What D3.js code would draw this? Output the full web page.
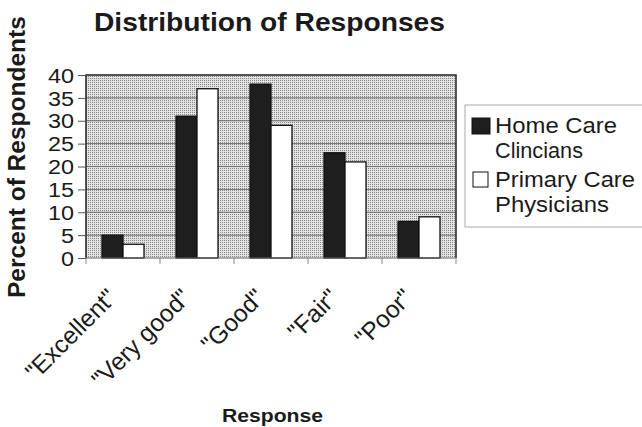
<!DOCTYPE html>
<html><head><meta charset="utf-8">
<script src="https://cdn.jsdelivr.net/npm/d3@7"></script>
<style>body{margin:0;background:#fff}svg{display:block}text{font-family:"Liberation Sans",Arial,sans-serif;fill:#1a1a1a}</style>
</head><body>
<script>
const categories = ['"Excellent"', '"Very good"', '"Good"', '"Fair"', '"Poor"'];
const seriesNames = ["Home Care Clincians", "Primary Care Physicians"];
const homeCare = [5, 31, 38, 23, 8];
const primaryCare = [3, 37, 29, 21, 9];
const yTicks = [0, 5, 10, 15, 20, 25, 30, 35, 40];

const W = 642, H = 427;
const svg = d3.select("body").append("svg").attr("width", W).attr("height", H);
const defs = svg.append("defs");
const pat = defs.append("pattern").attr("id", "stip").attr("width", 2).attr("height", 2).attr("patternUnits", "userSpaceOnUse");
pat.append("rect").attr("width", 2).attr("height", 2).attr("fill", "#e2e2e2");
pat.append("rect").attr("width", 1).attr("height", 1).attr("fill", "#8a8a8a");

const L = 86, R = 456, T = 75, B = 258;
const x0 = d3.scaleBand().domain(categories).range([L, R]);
const x1 = d3.scaleBand().domain(seriesNames).range([16, 58]);
const y = d3.scaleLinear().domain([0, 40]).range([B, T]);

// plot background
svg.append("rect").attr("x", L).attr("y", T).attr("width", R - L).attr("height", B - T).attr("fill", "url(#stip)");
// gridlines
svg.append("g").selectAll("line").data(yTicks.filter(d => d > 0 && d < 40)).join("line")
  .attr("x1", L).attr("x2", R).attr("y1", d => y(d)).attr("y2", d => y(d))
  .attr("stroke", "#6e6e6e").attr("stroke-width", 1);
// border
svg.append("path").attr("d", `M${L},${B}V${T}H${R}V${B}`).attr("fill", "none").attr("stroke", "#222").attr("stroke-width", 1.5);

// bars
const rows = categories.map((c, i) => ({ c, vals: [homeCare[i], primaryCare[i]] }));
const colors = ["#1e1e1e", "#ffffff"];
const g = svg.append("g").selectAll("g").data(rows).join("g").attr("transform", d => `translate(${x0(d.c)},0)`);
g.selectAll("rect").data(d => d.vals.map((v, j) => ({ v, s: seriesNames[j], j }))).join("rect")
  .attr("x", d => x1(d.s)).attr("width", x1.bandwidth())
  .attr("y", d => y(d.v)).attr("height", d => B - y(d.v))
  .attr("fill", d => colors[d.j]).attr("stroke", "#111").attr("stroke-width", 1.3);

// y axis
const ya = svg.append("g").attr("transform", `translate(${L},0)`)
  .call(d3.axisLeft(y).tickValues(yTicks).tickSize(8).tickPadding(4).tickFormat(d3.format("d")));
ya.select(".domain").remove();
ya.selectAll("line").attr("stroke", "#555");
ya.selectAll("text").style("font-size", "20px").attr("fill", "#1a1a1a").attr("dy", "0.36em")
  .attr("textLength", d => String(d).length * 13).attr("lengthAdjust", "spacingAndGlyphs");

// x axis
svg.append("line").attr("x1", L).attr("x2", R).attr("y1", B).attr("y2", B).attr("stroke", "#666").attr("stroke-width", 1.2);
const bounds = d3.range(categories.length + 1).map(i => L + i * x0.step());
svg.append("g").selectAll("line").data(bounds).join("line")
  .attr("x1", d => d).attr("x2", d => d).attr("y1", B).attr("y2", B + 6).attr("stroke", "#888");
svg.append("g").selectAll("text").data(categories).join("text")
  .attr("transform", d => `translate(${x0(d) + x0.bandwidth() / 2 - 5},299) rotate(-45)`)
  .attr("text-anchor", "end").style("font-size", "24.5px").text(d => d);

// titles
svg.append("text").attr("x", 94).attr("y", 31).style("font-size", "25px").style("font-weight", "bold")
  .attr("textLength", 351).attr("lengthAdjust", "spacingAndGlyphs").text("Distribution of Responses");
svg.append("text").attr("transform", "translate(25,298) rotate(-90)").style("font-size", "24.5px").style("font-weight", "bold")
  .text("Percent of Respondents");
svg.append("text").attr("x", 222).attr("y", 422).style("font-size", "17.5px").style("font-weight", "bold")
  .attr("textLength", 101).attr("lengthAdjust", "spacingAndGlyphs").text("Response");

// legend
const lg = svg.append("g");
lg.append("rect").attr("x", 465).attr("y", 105).attr("width", 190).attr("height", 122).attr("fill", "#fff").attr("stroke", "#aaa").attr("stroke-width", 1);
const legendLines = [["Home Care", "Clincians"], ["Primary Care", "Physicians"]];
const legendLens = [[122, 88], [140, 114]];
const legendY = [133, 187];
const li = lg.selectAll("g").data(seriesNames).join("g");
li.append("rect").attr("x", (d, i) => i === 0 ? 472 : 473).attr("y", (d, i) => i === 0 ? 118 : 172)
  .attr("width", (d, i) => i === 0 ? 18 : 15).attr("height", (d, i) => i === 0 ? 16 : 15)
  .attr("fill", (d, i) => colors[i]).attr("stroke", "#111").attr("stroke-width", 1);
li.each(function (d, i) {
  const t = d3.select(this);
  t.append("text").attr("x", 495).attr("y", legendY[i]).style("font-size", "22px")
    .attr("textLength", legendLens[i][0]).attr("lengthAdjust", "spacingAndGlyphs").text(legendLines[i][0]);
  t.append("text").attr("x", 495).attr("y", legendY[i] + 25).style("font-size", "22px")
    .attr("textLength", legendLens[i][1]).attr("lengthAdjust", "spacingAndGlyphs").text(legendLines[i][1]);
});
</script>
</body></html>
